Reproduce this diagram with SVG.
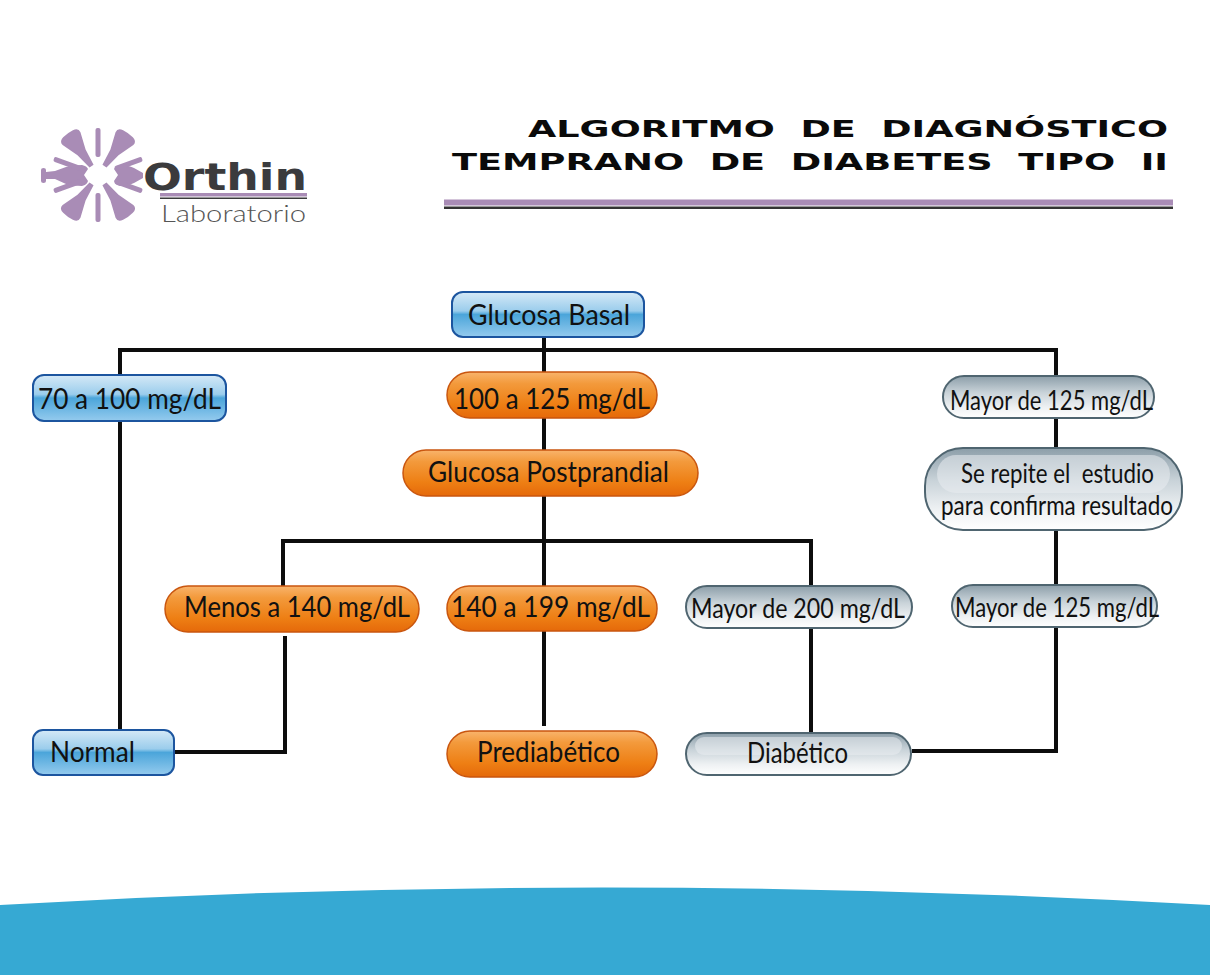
<svg xmlns="http://www.w3.org/2000/svg" width="1210" height="975" viewBox="0 0 1210 975">
<style>
.lbl{font-family:"Lato","Open Sans","Liberation Sans",sans-serif;font-size:28px;fill:#111;white-space:pre}
.nar{font-size:27px}
.ttl{font-family:"DejaVu Sans","Liberation Sans",sans-serif;font-weight:bold;font-size:23px;fill:#0a0a0a;white-space:pre}
.blue{fill:url(#gb);stroke:#1c559f;stroke-width:2}
.org{fill:url(#go);stroke:#c9560f;stroke-width:1.5}
.gry{fill:url(#gg);stroke:#4f6570;stroke-width:2}
.hl{fill:#e9edf0;opacity:.55}
.con{fill:none;stroke:#0d0d0d;stroke-width:4;stroke-linejoin:miter}
.logo{fill:#a98cb6}
</style>
<defs>
<linearGradient id="gb" x1="0" y1="0" x2="0" y2="1">
<stop offset="0" stop-color="#d5e9f7"/><stop offset=".42" stop-color="#9bcdec"/><stop offset=".5" stop-color="#4ba5da"/><stop offset="1" stop-color="#95cbee"/>
</linearGradient>
<linearGradient id="go" x1="0" y1="0" x2="0" y2="1">
<stop offset="0" stop-color="#f9b46c"/><stop offset=".25" stop-color="#f39a3c"/><stop offset=".7" stop-color="#ee7f14"/><stop offset="1" stop-color="#e5690a"/>
</linearGradient>
<linearGradient id="gg" x1="0" y1="0" x2="0" y2="1">
<stop offset="0" stop-color="#8c9ea9"/><stop offset=".4" stop-color="#c9d3d9"/><stop offset=".75" stop-color="#eef1f3"/><stop offset="1" stop-color="#ffffff"/>
</linearGradient>
<path id="flask" d="M-2.5-11 L-5-28 L-11-45 Q-12-50-6-51 Q0-52 6-51 Q12-50 11-45 L5-28 L2.5-11 Z"/>
<rect id="rod" x="-2.5" y="-47" width="5" height="29" rx="2"/>
</defs>
<rect width="1210" height="975" fill="#ffffff"/>
<path id="banner" d="M0 905 Q600 870 1210 905 L1210 975 L0 975 Z" fill="#36a9d3"/>

<g id="logo">
<g class="logo">
<use href="#flask" transform="translate(98 175) rotate(-36)"/>
<use href="#flask" transform="translate(98 175) rotate(36)"/>
<use href="#flask" transform="translate(98 175) rotate(144)"/>
<use href="#flask" transform="translate(98 175) rotate(-144)"/>
<path d="M82 165 Q73 165 66 167 L55 171 L46 172 L46 170 Q46 168 43.500 168 Q41 168 41 170 L41 181 Q41 183 43.500 183 Q46 183 46 181 L46 179 L55 179 L66 184 Q73 186 82 186 Q87 185 88 181 L84 175 L88 169 Q87 166 82 165 Z"/>
<path d="M120 165 Q128 165 134 168 L143 173 L143 178 L134 183 Q128 186 120 186 Q115 185 114 181 L118 175 L114 169 Q115 166 120 165 Z"/>
<use href="#rod" transform="translate(98 175) rotate(0)"/>
<use href="#rod" transform="translate(98 175) rotate(180)"/>
<use href="#rod" transform="translate(98 175) rotate(-70)"/>
<use href="#rod" transform="translate(98 175) rotate(70)"/>
<use href="#rod" transform="translate(98 175) rotate(-110)"/>
<use href="#rod" transform="translate(98 175) rotate(110)"/>
</g>
<text x="143" y="190" textLength="164" lengthAdjust="spacingAndGlyphs" style="font-family:'DejaVu Sans',sans-serif;font-weight:bold;font-size:38px;fill:#3b3b3d">Orthin</text>
<rect x="160" y="193" width="147" height="3.5" fill="#a98cb6"/>
<rect x="160" y="197.5" width="147" height="1.5" fill="#3b3b3d"/>
<text x="161" y="222" textLength="145" lengthAdjust="spacingAndGlyphs" style="font-family:'Lato',sans-serif;font-weight:300;font-size:24px;fill:#555">Laboratorio</text>
</g>

<g id="title">
<text class="ttl" x="528" y="137" textLength="640" lengthAdjust="spacingAndGlyphs">ALGORITMO  DE  DIAGNÓSTICO</text>
<text class="ttl" x="452" y="170" textLength="716" lengthAdjust="spacingAndGlyphs">TEMPRANO  DE  DIABETES  TIPO  II</text>
<rect x="444" y="199.5" width="729" height="6" fill="#a98cb6"/>
<rect x="444" y="206.5" width="729" height="2.5" fill="#333"/>
</g>

<g id="connectors">
<path class="con" d="M120 729V350H1056V751H912"/>
<path class="con" d="M544 337V372M544 418V450M544 496V586"/>
<path class="con" d="M283 586V541H811V586"/>
<path class="con" d="M544 631V726"/>
<path class="con" d="M811 628V733"/>
<path class="con" d="M285 636V752H174"/>
</g>

<g id="n-glucosa-basal"><rect class="blue" x="452" y="292" width="192" height="45" rx="11"/><text class="lbl" x="468" y="325" textLength="162" lengthAdjust="spacingAndGlyphs">Glucosa Basal</text></g>
<g id="n-70-100"><rect class="blue" x="33" y="375" width="193" height="46" rx="11"/><text class="lbl" x="38" y="409" textLength="183" lengthAdjust="spacingAndGlyphs">70 a 100 mg/dL</text></g>
<g id="n-100-125"><rect class="org" x="447" y="372" width="210" height="46" rx="23"/><text class="lbl" x="454" y="409" textLength="196" lengthAdjust="spacingAndGlyphs">100 a 125 mg/dL</text></g>
<g id="n-mayor-125a"><rect class="gry" x="943" y="376" width="211" height="42" rx="21"/><text class="lbl nar" x="950" y="410" textLength="203" lengthAdjust="spacingAndGlyphs">Mayor de 125 mg/dL</text></g>
<g id="n-postprandial"><rect class="org" x="403" y="450" width="295" height="46" rx="23"/><text class="lbl" x="428" y="482" textLength="241" lengthAdjust="spacingAndGlyphs">Glucosa Postprandial</text></g>
<g id="n-repite"><rect class="gry" x="925" y="448" width="257" height="82" rx="38"/><rect class="hl" x="937" y="455" width="233" height="38" rx="19"/><text class="lbl nar" x="961" y="483" textLength="193" lengthAdjust="spacingAndGlyphs">Se repite el  estudio</text><text class="lbl nar" x="941" y="515" textLength="232" lengthAdjust="spacingAndGlyphs">para confirma resultado</text></g>
<g id="n-menos-140"><rect class="org" x="165" y="586" width="254" height="46" rx="23"/><text class="lbl" x="184" y="617" textLength="226" lengthAdjust="spacingAndGlyphs">Menos a 140 mg/dL</text></g>
<g id="n-140-199"><rect class="org" x="447" y="586" width="210" height="45" rx="22"/><text class="lbl" x="451" y="617" textLength="199" lengthAdjust="spacingAndGlyphs">140 a 199 mg/dL</text></g>
<g id="n-mayor-200"><rect class="gry" x="686" y="586" width="226" height="42" rx="21"/><text class="lbl nar" x="691" y="618" textLength="214" lengthAdjust="spacingAndGlyphs">Mayor de 200 mg/dL</text></g>
<g id="n-mayor-125b"><rect class="gry" x="952" y="585" width="205" height="42" rx="21"/><text class="lbl nar" x="955" y="617" textLength="204" lengthAdjust="spacingAndGlyphs">Mayor de 125 mg/dL</text></g>
<g id="n-normal"><rect class="blue" x="33" y="730" width="141" height="45" rx="10"/><text class="lbl" x="50" y="762" textLength="85" lengthAdjust="spacingAndGlyphs">Normal</text></g>
<g id="n-prediabetico"><rect class="org" x="447" y="731" width="210" height="46" rx="23"/><text class="lbl" x="477" y="762" textLength="143" lengthAdjust="spacingAndGlyphs">Prediabético</text></g>
<g id="n-diabetico"><rect class="gry" x="686" y="733" width="225" height="42" rx="21"/><rect class="hl" x="695" y="737" width="207" height="18" rx="9"/><text class="lbl" x="747" y="763" textLength="101" lengthAdjust="spacingAndGlyphs">Diabético</text></g>
</svg>
